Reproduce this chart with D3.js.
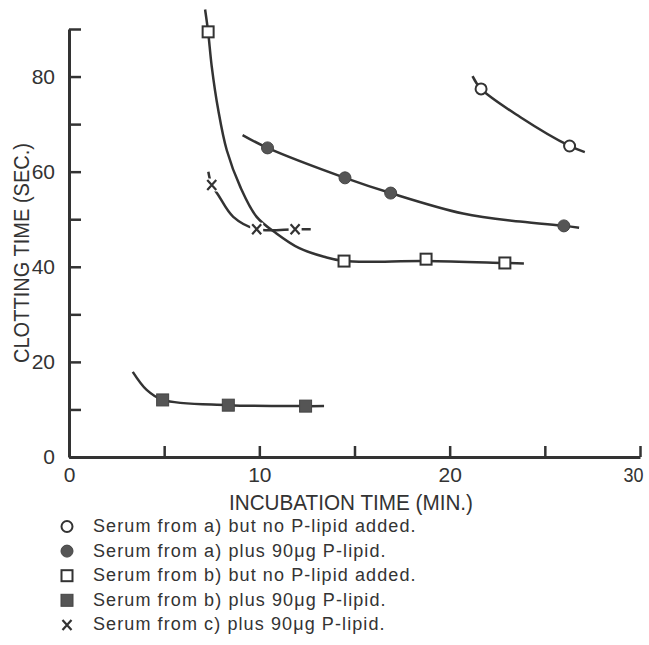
<!DOCTYPE html>
<html>
<head>
<meta charset="utf-8">
<script src="https://cdn.jsdelivr.net/npm/d3@7"></script>
<style>
  body { margin: 0; background: #fff; }
  svg text { font-family: "Liberation Sans", "DejaVu Sans", sans-serif; fill: #333; }
</style>
</head>
<body>
<script>
// Marker values (minutes, seconds)
const openCircleX = [21.65, 26.3];
const openCircleY = [77.4, 65.4];
const filledCircleX = [10.43, 14.5, 16.9, 26.0];
const filledCircleY = [65.0, 58.7, 55.5, 48.6];
const openSquareX = [7.31, 14.45, 18.76, 22.9];
const openSquareY = [89.4, 41.2, 41.6, 40.8];
const filledSquareX = [4.92, 8.37, 12.43];
const filledSquareY = [12.0, 10.9, 10.7];
const crossX = [7.5, 9.86, 11.88];
const crossY = [57.2, 47.9, 47.9];

// Hand-drawn fitted curves
const openCircleCurveX = [21.2, 21.65, 23.7, 26.3, 27.1];
const openCircleCurveY = [80.1, 77.4, 71.5, 65.4, 64.1];
const filledCircleCurveX = [9.12, 10.43, 14.5, 16.9, 20.7, 23.7, 26.0, 26.8];
const filledCircleCurveY = [67.7, 65.0, 58.7, 55.5, 51.2, 49.5, 48.6, 48.2];
const openSquareCurveX = [7.15, 7.31, 7.5, 7.84, 8.29, 9.0, 9.86, 10.9, 12.1, 13.4, 14.45, 18.76, 22.9, 23.9];
const openSquareCurveY = [94.1, 89.4, 82.1, 73.0, 64.5, 56.8, 50.5, 47.0, 43.9, 42.1, 41.2, 41.2, 40.8, 40.7];
const filledSquareCurveX = [3.35, 4.08, 4.92, 8.37, 12.43, 13.4];
const filledSquareCurveY = [17.9, 14.1, 12.0, 10.9, 10.7, 10.7];
const crossCurveX = [7.32, 7.5, 7.84, 8.63, 9.86, 11.88, 12.7];
const crossCurveY = [60.0, 57.2, 55.1, 50.5, 47.9, 47.9, 47.9];

const xTickValues = [0, 5, 10, 15, 20, 25, 30];
const xTickLabels = ['0', '', '10', '', '20', '', '30'];
const yTickValues = [0, 10, 20, 30, 40, 50, 60, 70, 80, 90];
const yTickLabels = ['0', '', '20', '', '40', '', '60', '', '80', ''];

const legendLabels = [
    'Serum from a) but no P-lipid added.',
    'Serum from a) plus 90\u03bcg P-lipid.',
    'Serum from b) but no P-lipid added.',
    'Serum from b) plus 90\u03bcg P-lipid.',
    'Serum from c) plus 90\u03bcg P-lipid.'
];
const legendMarkers = ['openCircle', 'filledCircle', 'openSquare', 'filledSquare', 'cross'];

const width = 649, height = 645;
const ink = '#333';

const svg = d3.select('body').append('svg')
    .attr('width', width)
    .attr('height', height);

const x = d3.scaleLinear().domain([0, 30]).range([69, 640]);
const y = d3.scaleLinear().domain([0, 90]).range([457, 29]);

// Axes with inward ticks
const xAxis = svg.append('g')
    .attr('transform', 'translate(0,' + y(0) + ')')
    .call(d3.axisBottom(x)
        .tickValues(xTickValues)
        .tickFormat((d, i) => xTickLabels[i])
        .tickSizeInner(-11)
        .tickSizeOuter(0)
        .tickPadding(10));

const yAxis = svg.append('g')
    .attr('transform', 'translate(' + x(0) + ',0)')
    .call(d3.axisLeft(y)
        .tickValues(yTickValues)
        .tickFormat((d, i) => yTickLabels[i])
        .tickSizeInner(-12)
        .tickSizeOuter(0)
        .tickPadding(14));

[xAxis, yAxis].forEach(a => {
    a.select('.domain').attr('stroke', ink).attr('stroke-width', 3);
    a.selectAll('.tick line').attr('stroke', ink).attr('stroke-width', 2.5);
    a.selectAll('.tick text').attr('font-size', 21).attr('fill', ink)
        .style('font-family', '"Liberation Sans", sans-serif');
});
// last x label sits tight against the right edge
xAxis.selectAll('.tick text').filter(d => d === 30)
    .attr('text-anchor', 'end').attr('dx', 3)
    .attr('textLength', 20).attr('lengthAdjust', 'spacingAndGlyphs');

// Axis titles
svg.append('text')
    .attr('x', 229)
    .attr('y', 510)
    .attr('font-size', 22)
    .attr('textLength', 244)
    .attr('lengthAdjust', 'spacingAndGlyphs')
    .text('INCUBATION TIME (MIN.)');

svg.append('text')
    .attr('transform', 'translate(29,363) rotate(-90)')
    .attr('font-size', 22)
    .attr('textLength', 220)
    .attr('lengthAdjust', 'spacingAndGlyphs')
    .text('CLOTTING TIME (SEC.)');

// Curves
const line = d3.line()
    .x(d => x(d[0]))
    .y(d => y(d[1]))
    .curve(d3.curveCatmullRom.alpha(0.5));

const curves = [
    [openCircleCurveX, openCircleCurveY],
    [filledCircleCurveX, filledCircleCurveY],
    [openSquareCurveX, openSquareCurveY],
    [filledSquareCurveX, filledSquareCurveY],
    [crossCurveX, crossCurveY]
];

svg.selectAll('path.curve')
    .data(curves)
    .enter().append('path')
    .attr('class', 'curve')
    .attr('d', c => line(d3.zip(c[0], c[1])))
    .attr('fill', 'none')
    .attr('stroke', ink)
    .attr('stroke-width', 2.5);

// Marker drawing
function drawMarker(g, type, cx, cy, halo) {
    if (type === 'openCircle') {
        g.append('circle').attr('cx', cx).attr('cy', cy).attr('r', 5.5)
            .attr('fill', '#fff').attr('stroke', ink).attr('stroke-width', 2);
    } else if (type === 'filledCircle') {
        g.append('circle').attr('cx', cx).attr('cy', cy).attr('r', 6)
            .attr('fill', '#555').attr('stroke', '#444').attr('stroke-width', 1);
    } else if (type === 'openSquare') {
        g.append('rect').attr('x', cx - 5.5).attr('y', cy - 5.5).attr('width', 11).attr('height', 11)
            .attr('fill', '#fff').attr('stroke', ink).attr('stroke-width', 2);
    } else if (type === 'filledSquare') {
        g.append('rect').attr('x', cx - 6).attr('y', cy - 6).attr('width', 12).attr('height', 12)
            .attr('fill', '#555').attr('stroke', '#444').attr('stroke-width', 1);
    } else if (type === 'cross') {
        if (halo) {
            g.append('rect').attr('x', cx - 6.5).attr('y', cy - 6.5).attr('width', 13).attr('height', 13)
                .attr('fill', '#fff');
        }
        g.append('path')
            .attr('d', 'M' + (cx - 4.5) + ',' + (cy - 5) + 'L' + (cx + 4.5) + ',' + (cy + 5) +
                'M' + (cx + 4.5) + ',' + (cy - 5) + 'L' + (cx - 4.5) + ',' + (cy + 5))
            .attr('stroke', ink).attr('stroke-width', 2.2).attr('fill', 'none');
    }
}

const markerSets = [
    ['openCircle', openCircleX, openCircleY],
    ['filledCircle', filledCircleX, filledCircleY],
    ['openSquare', openSquareX, openSquareY],
    ['filledSquare', filledSquareX, filledSquareY],
    ['cross', crossX, crossY]
];

const marks = svg.append('g');
markerSets.forEach(s => {
    s[1].forEach((v, i) => drawMarker(marks, s[0], x(v), y(s[2][i]), true));
});

// Legend
const legend = svg.append('g');
legendLabels.forEach((label, i) => {
    const ly = 526.5 + i * 24.6;
    drawMarker(legend, legendMarkers[i], 67, ly, false);
    legend.append('text')
        .attr('x', 93)
        .attr('y', ly + 5.5)
        .attr('font-size', 18)
        .attr('letter-spacing', 1.1)
        .text(label);
});
</script>
</body>
</html>
